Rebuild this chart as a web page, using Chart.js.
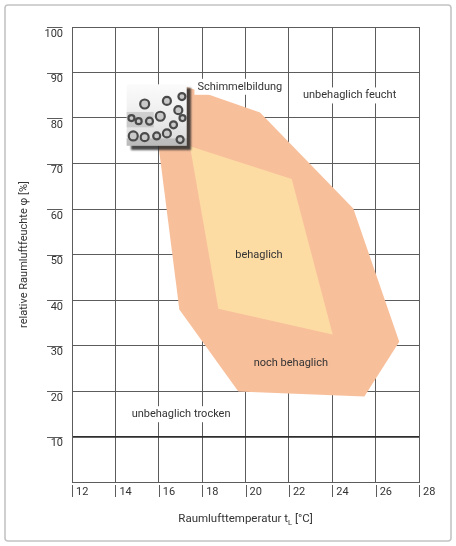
<!DOCTYPE html>
<html><head><meta charset="utf-8">
<script src="https://cdn.jsdelivr.net/npm/chart.js@4"></script>
<style>html,body{margin:0;padding:0;background:#fff}#wrap{position:relative;width:456px;height:546px}</style>
</head><body><div id="wrap"><canvas id="c"></canvas></div>
<script>
// ---- data ----
const xTicks = [12, 14, 16, 18, 20, 22, 24, 26, 28];
const yTickLabels = [10, 20, 30, 40, 50, 60, 70, 80, 90, 100];
const outerTemp = [17.2, 20.67, 24.97, 27.09, 25.48, 19.67, 16.95, 16.0];
const outerRH   = [87.0, 81.2, 60.1, 30.8, 18.8, 19.9, 37.9, 73.5];
const innerTemp = [17.44, 22.13, 24.02, 18.75];
const innerRH   = [73.8, 66.6, 32.4, 38.1];
const regionNames = ['Schimmelbildung', 'unbehaglich feucht', 'behaglich', 'noch behaglich', 'unbehaglich trocken'];
const regionTemp  = [19.74, 24.8, 20.62, 22.09, 17.03];
const regionRH    = [86.86, 84.96, 49.92, 26.06, 14.9];
const moldTemp = [14.52, 17.29];
const moldRH   = [87.4, 73.9];

// ---- style ----
const FONT = 'Roboto, "Open Sans", sans-serif';
const INK = '#333333';
const GRID = '#5c5c5c';
const OUTER = '#f8bf9b';
const INNER = '#fddca4';
const regionBg = ['#ffffff', '#ffffff', INNER, OUTER, '#ffffff'];
const ringSpots = [[0.3,0.32,4.5],[0.67,0.27,4],[0.92,0.2,3.5],[0.86,0.42,4],[0.56,0.52,4.5],[0.93,0.55,3],
  [0.78,0.66,3.5],[0.11,0.84,4.5],[0.3,0.86,4],[0.5,0.84,3.5],[0.67,0.8,4],[0.89,0.9,3.5],[0.08,0.55,3],[0.38,0.6,3.5],[0.2,0.6,3]];

const pts = (xs, ys) => xs.map((x, i) => ({x, y: ys[i]}));

const decor = {
  id: 'decor',
  beforeDraw(chart) {
    const c = chart.ctx;
    c.save();
    c.strokeStyle = '#c4c4c4';
    c.lineWidth = 1.6;
    c.beginPath();
    if (c.roundRect) c.roundRect(5, 5, 446, 536, 3); else c.rect(5, 5, 446, 536);
    c.stroke();
    c.restore();
  },
  afterDraw(chart) {
    const c = chart.ctx, xs = chart.scales.x, ys = chart.scales.y, a = chart.chartArea;
    c.save();
    // y tick overlines
    c.strokeStyle = GRID; c.lineWidth = 1;
    yTickLabels.forEach(v => {
      const y = Math.round(ys.getPixelForValue(v)) + 0.5;
      c.beginPath(); c.moveTo(a.left - 25, y); c.lineTo(a.left - 9.5, y); c.stroke();
    });
    // x tick bars
    xTicks.forEach(v => {
      const x = Math.round(xs.getPixelForValue(v)) + 0.5;
      c.beginPath(); c.moveTo(x, a.bottom + 3); c.lineTo(x, a.bottom + 15); c.stroke();
    });
    // x title with subscript
    c.fillStyle = INK; c.textBaseline = 'middle';
    const fMain = '11.5px ' + FONT, fSub = '7.5px ' + FONT;
    const p1 = 'Raumlufttemperatur t', p2 = 'L', p3 = ' [°C]';
    c.font = fMain; const w1 = c.measureText(p1).width, w3 = c.measureText(p3).width;
    c.font = fSub; const w2 = c.measureText(p2).width;
    let tx = (a.left + a.right) / 2 - (w1 + w2 + w3) / 2; const ty = a.bottom + 37;
    c.textAlign = 'left';
    c.font = fMain; c.fillText(p1, tx, ty); tx += w1;
    c.font = fSub; c.fillText(p2, tx, ty + 4); tx += w2;
    c.font = fMain; c.fillText(p3, tx, ty);
    // region labels
    c.font = '11px ' + FONT; c.textAlign = 'center';
    regionNames.forEach((t, i) => {
      const x = xs.getPixelForValue(regionTemp[i]), y = ys.getPixelForValue(regionRH[i]);
      const w = c.measureText(t).width;
      c.fillStyle = regionBg[i];
      c.fillRect(x - w / 2 - 3, y - 8, w + 6, 16);
      c.fillStyle = INK;
      c.fillText(t, x, y);
    });
    // mold picture
    const x0 = xs.getPixelForValue(moldTemp[0]), x1 = xs.getPixelForValue(moldTemp[1]);
    const y0 = ys.getPixelForValue(moldRH[0]), y1 = ys.getPixelForValue(moldRH[1]);
    const w = x1 - x0, h = y1 - y0;
    c.save();
    c.shadowColor = 'rgba(40,40,40,0.85)'; c.shadowOffsetX = 4; c.shadowOffsetY = 4; c.shadowBlur = 2;
    const g = c.createLinearGradient(0, y0, 0, y1);
    g.addColorStop(0, '#fbfbfb'); g.addColorStop(0.5, '#eeeeee'); g.addColorStop(1, '#d8d8d8');
    c.fillStyle = g; c.fillRect(x0, y0, w, h);
    c.restore();
    c.fillStyle = 'rgba(150,150,150,0.35)';
    c.fillRect(x0, y0 + h * 0.45, w * 0.45, h * 0.25);
    c.fillStyle = 'rgba(120,120,120,0.3)';
    c.fillRect(x0, y0 + h * 0.88, w, h * 0.12);
    ringSpots.forEach(([fx, fy, r]) => {
      c.beginPath(); c.arc(x0 + fx * w, y0 + fy * h, r, 0, Math.PI * 2);
      c.fillStyle = '#c9c9c9'; c.fill();
      c.lineWidth = 2.2; c.strokeStyle = '#4a4a4a'; c.stroke();
    });
    c.restore();
  }
};

new Chart(document.getElementById('c'), {
  type: 'scatter',
  data: {
    datasets: [
      { label: 'behaglich', data: pts(innerTemp, innerRH), showLine: true, fill: 'shape',
        backgroundColor: INNER, borderWidth: 0, borderColor: 'rgba(0,0,0,0)', pointRadius: 0 },
      { label: 'noch behaglich', data: pts(outerTemp, outerRH), showLine: true, fill: 'shape',
        backgroundColor: OUTER, borderWidth: 0, borderColor: 'rgba(0,0,0,0)', pointRadius: 0 }
    ]
  },
  options: {
    responsive: true, maintainAspectRatio: false, animation: false,
    layout: { padding: { left: 0, right: 37, top: 27, bottom: 0 } },
    plugins: { legend: { display: false }, tooltip: { enabled: false } },
    scales: {
      x: {
        type: 'linear', min: 12, max: 28, z: 1,
        afterBuildTicks: s => { s.ticks = xTicks.map(v => ({ value: v })); },
        afterFit: s => { s.height = 64; },
        ticks: { align: 'start', labelOffset: 4, padding: 4, color: INK, maxRotation: 0, autoSkip: false,
                 font: { family: FONT, size: 11 } },
        grid: { color: GRID, lineWidth: 1, drawTicks: false },
        border: { color: GRID, width: 1 }
      },
      y: {
        type: 'linear', min: 0, max: 100, z: 1,
        afterFit: s => { s.width = 72; },
        ticks: { stepSize: 10, labelOffset: 7, padding: 9, color: INK,
                 callback: v => yTickLabels.includes(v) ? String(v) : '',
                 font: { family: FONT, size: 11 } },
        grid: { color: c => (c.tick && c.tick.value === 10) ? '#2e2e2e' : GRID,
                lineWidth: c => (c.tick && c.tick.value === 10) ? 1.8 : 1, drawTicks: false },
        border: { color: GRID, width: 1 },
        title: { display: true, text: 'relative Raumluftfeuchte φ [%]', color: INK,
                 padding: { top: 18, bottom: 0 }, font: { family: FONT, size: 11 } }
      }
    }
  },
  plugins: [decor]
});
</script>
</body></html>
